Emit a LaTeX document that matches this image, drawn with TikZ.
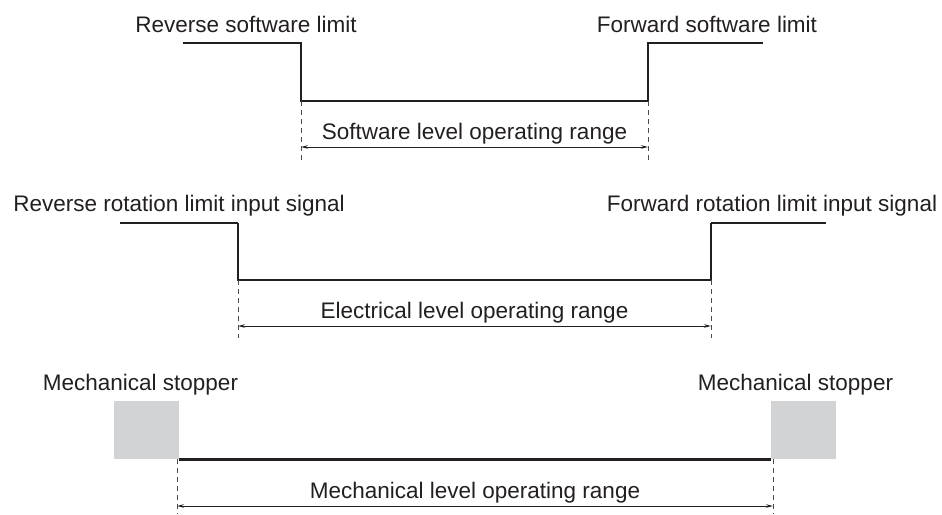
\documentclass[tikz,border=0pt]{standalone}
\usepackage{fontspec}
\setmainfont{Liberation Sans}
\usetikzlibrary{arrows.meta}
\definecolor{txt}{HTML}{231F20}
\definecolor{stopgray}{HTML}{D1D3D4}
\begin{document}
\begin{tikzpicture}[x=1pt,y=-1pt,
  lbl/.style={font=\fontsize{22.5}{27}\selectfont, text=txt, inner sep=0pt, anchor=base},
  thinline/.style={line width=1.1pt, draw=txt},
  thickline/.style={line width=2.6pt, draw=txt, line join=miter},
  guide/.style={dash pattern=on 5pt off 4pt, line width=1pt, draw=black!70},
  rangearrow/.style={line width=1pt, draw=txt, {Stealth[length=7pt,width=3.5pt]}-{Stealth[length=7pt,width=3.5pt]}},
  stopper/.style={fill=stopgray, draw=none, minimum width=65pt, minimum height=58pt, inner sep=0pt}]
\useasboundingbox (0,0) rectangle (942,514);

% ---------- Software level ----------
\node[lbl] (revsw) at (246,32) {Reverse software limit};
\node[lbl] (fwdsw) at (707,32) {Forward software limit};
\coordinate (s0) at (183,43);
\coordinate (s1) at (245,43);
\coordinate (s2) at (301,43);
\coordinate (s3) at (301,101);
\coordinate (s4) at (648,101);
\coordinate (s5) at (648,43);
\coordinate (s6) at (705,43);
\coordinate (s7) at (763,43);
\draw[thinline] (s0) -- (s1);
\draw[thickline] (s1) -- (s2) -- (s3) -- (s4) -- (s5) -- (s6);
\draw[thinline] (s6) -- (s7);
\coordinate (sdl) at (301,160);
\coordinate (sdr) at (648,160);
\draw[guide] (s3) -- (sdl);
\draw[guide] (s4) -- (sdr);
\coordinate (sal) at (301,147);
\coordinate (sar) at (648,147);
\draw[rangearrow] (sal) -- (sar);
\node[lbl] (swrange) at (474.5,139) {Software level operating range};

% ---------- Electrical level ----------
\node[lbl] (revrot) at (179,211) {Reverse rotation limit input signal};
\node[lbl] (fwdrot) at (772,211) {Forward rotation limit input signal};
\coordinate (e0) at (120,223);
\coordinate (e1) at (238,223);
\coordinate (e2) at (238,280);
\coordinate (e3) at (711,280);
\coordinate (e4) at (711,223);
\coordinate (e5) at (826,223);
\draw[thinline] (e0) -- (e1);
\draw[thickline] (e1) -- (e2) -- (e3) -- (e4);
\draw[thinline] (e4) -- (e5);
\coordinate (edl) at (238,338);
\coordinate (edr) at (711,338);
\draw[guide] (e2) -- (edl);
\draw[guide] (e3) -- (edr);
\coordinate (eal) at (238,326);
\coordinate (ear) at (711,326);
\draw[rangearrow] (eal) -- (ear);
\node[lbl] (elrange) at (474.5,318) {Electrical level operating range};

% ---------- Mechanical level ----------
\node[lbl] (mstopl) at (140.5,390) {Mechanical stopper};
\node[lbl] (mstopr) at (795.5,390) {Mechanical stopper};
\node[stopper] (boxl) at (146.5,430) {};
\node[stopper] (boxr) at (803.5,430) {};
\draw[thickline] (boxl.south east) -- (boxr.south west);
\coordinate (mdl0) at (177,459);
\coordinate (mdr0) at (773,459);
\coordinate (mdl) at (177,514);
\coordinate (mdr) at (773,514);
\draw[guide] (mdl0) -- (mdl);
\draw[guide] (mdr0) -- (mdr);
\coordinate (mal) at (177,506);
\coordinate (mar) at (773,506);
\draw[rangearrow] (mal) -- (mar);
\node[lbl] (merange) at (475,498) {Mechanical level operating range};
\end{tikzpicture}
\end{document}
